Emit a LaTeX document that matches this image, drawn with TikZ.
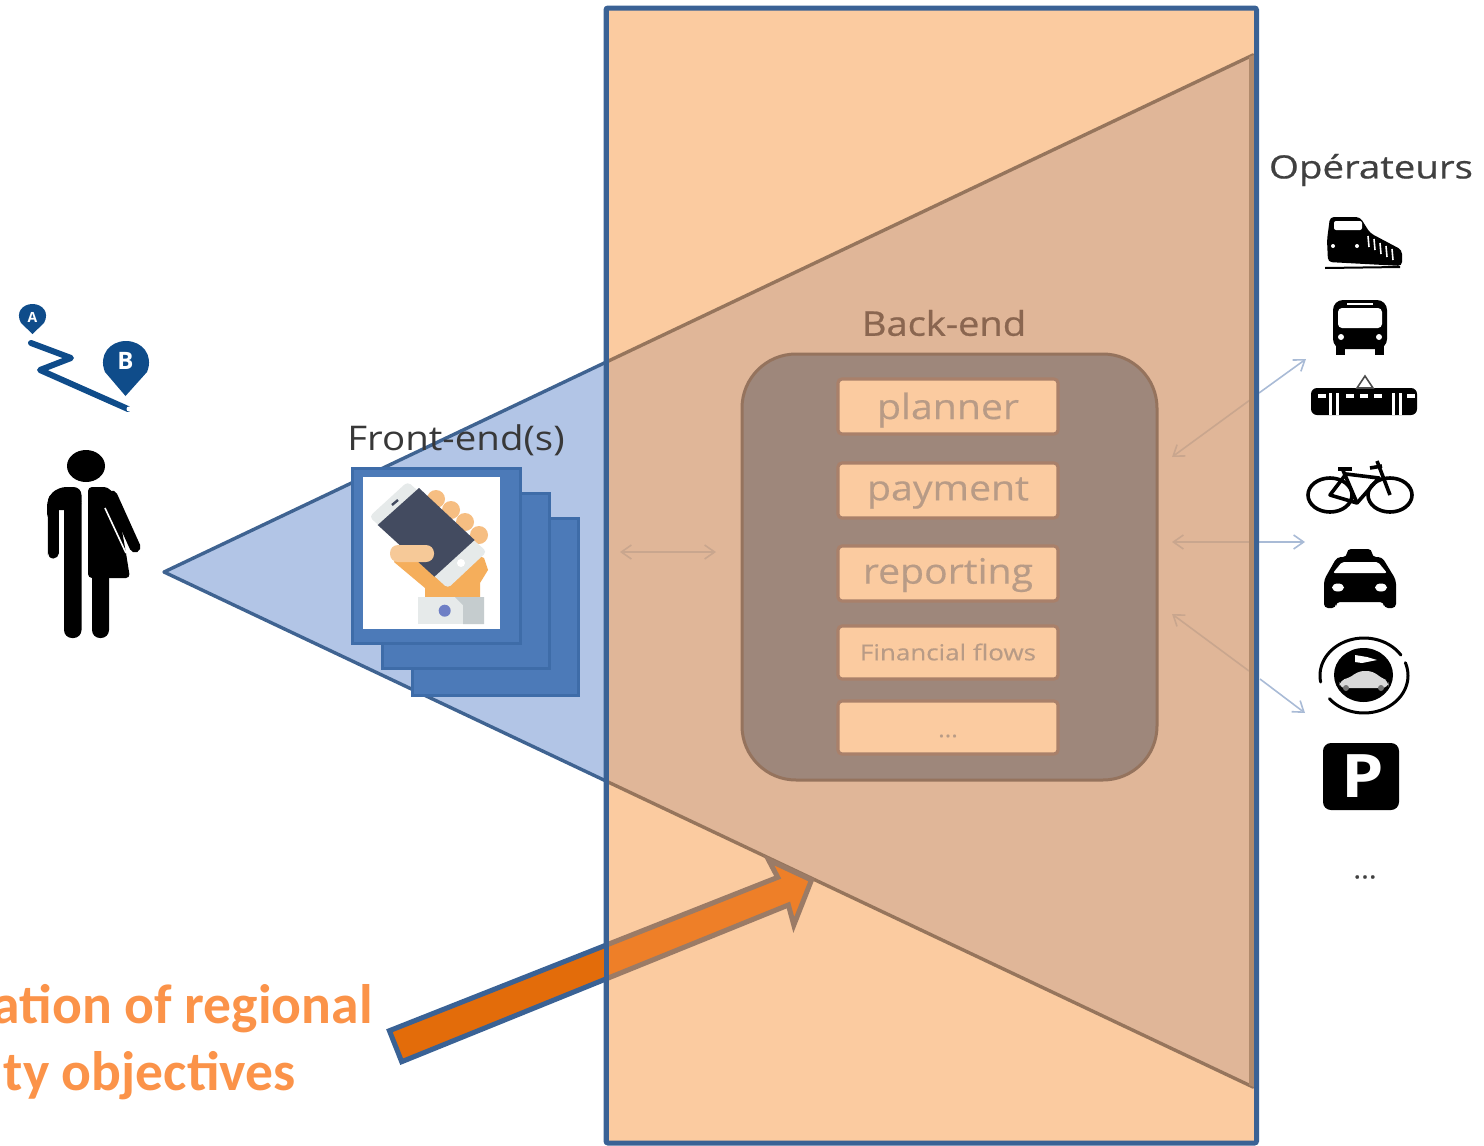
\documentclass[tikz,border=0pt]{standalone}
\usepackage{fontspec}
\setmainfont{Open Sans}
\newfontfamily\carl{Carlito}
\newfontfamily\wf[FakeStretch=1.13]{Open Sans}
\newfontfamily\wfb[FakeStretch=1.12,FakeBold=0.7]{Open Sans}
\newfontfamily\wfm[FakeStretch=1.12,FakeBold=0.35]{Open Sans}
\newfontfamily\wfs[FakeStretch=1.18,FakeBold=0.35]{Open Sans}
\newfontfamily\wfo[FakeStretch=1.2,FakeBold=0.6]{Open Sans}
\usetikzlibrary{arrows.meta}
\definecolor{frameblue}{HTML}{3A6295}
\definecolor{peach}{HTML}{FBCBA0}
\definecolor{triin}{HTML}{E0B698}
\definecolor{triout}{HTML}{B2C5E6}
\definecolor{edgein}{HTML}{96755C}
\definecolor{edgeside}{HTML}{B08A6C}
\definecolor{edgeout}{HTML}{3F6391}
\definecolor{stackblue}{HTML}{4C7AB8}
\definecolor{stackedge}{HTML}{3E6CA8}
\definecolor{panel}{HTML}{9E877B}
\definecolor{panelEdge}{HTML}{95735D}
\definecolor{betext}{HTML}{8A6650}
\definecolor{boxedge}{HTML}{A9806A}
\definecolor{boxtext}{HTML}{B89B86}
\definecolor{arrin}{HTML}{C9A68E}
\definecolor{arrout}{HTML}{A9BBD6}
\definecolor{pincol}{HTML}{0F4C8A}
\definecolor{orangetext}{HTML}{FB9349}
\definecolor{handc}{HTML}{F5AE5B}
\definecolor{fingerc}{HTML}{F6BE82}
\definecolor{phonec}{HTML}{E6EAEA}
\definecolor{screenc}{HTML}{434B60}
\definecolor{thumbc}{HTML}{F6C998}
\definecolor{cuffd}{HTML}{C5CCCE}
\definecolor{btnc}{HTML}{6E7FC5}
\definecolor{arrowout}{HTML}{E36C0A}
\definecolor{arrowin}{HTML}{EE7F28}
\definecolor{arrowinedge}{HTML}{9B7B66}
\tikzset{
 stackbox/.style={draw=stackedge,fill=stackblue,line width=1.5pt},
 modbox/.style={draw=boxedge,fill=peach,line width=1.6pt,rounded corners=2pt},
 modtext/.style={text=boxtext,inner sep=0pt,anchor=center},
 thinin/.style={draw=arrin,line width=.8pt,-{Straight Barb[length=5pt,width=7pt]}},
 thinout/.style={draw=arrout,line width=.8pt,-{Straight Barb[length=5pt,width=7pt]}},
 ico/.style={fill=black,draw=none},
 wht/.style={fill=white,draw=none},
}
\begin{document}
\begin{tikzpicture}[x=0.5pt,y=-0.5pt]
\useasboundingbox (0,0) rectangle (1484,1146);
% frame fill
\fill[peach] (606,8) rectangle (1256,1143);
% triangle
\coordinate (apex) at (164,572);
\coordinate (tt) at (1253,55);
\coordinate (tb) at (1253,1087);
\begin{scope}
\clip (0,0) rectangle (606,1146);
\path[fill=triout,draw=edgeout,line width=1.7pt,line join=round] (apex)--(tt)--(tb)--cycle;
\end{scope}
\begin{scope}
\clip (606,0) rectangle (1484,1146);
\path[fill=triin,draw=edgein,line width=1.7pt,line join=round] (apex)--(tt)--(tb)--cycle;
\end{scope}
% stack
\draw[stackbox] (412.5,518.5) rectangle (578.5,695.5);
\draw[stackbox] (382.5,493.5) rectangle (549.5,668.5);
\draw[stackbox] (352.5,468.5) rectangle (520.5,643.5);
\fill[white] (363,477) rectangle (500,629);
% hand + phone
\foreach \x/\y in {436/499,451/510,465/522,479/535}{\fill[fingerc] (\x,\y) circle[radius=9];}
\fill[handc] (394,562)--(425,588)--(425,597)--(480,597)--(480,583)--(488,570)--(484,558)--(440,540)--(400,550)--cycle;
\fill[phonec,rounded corners=2pt] (407.6,481.7)--(369.3,516.7)--(447.8,588.3)--(486.8,551.7)--cycle;
\fill[screenc] (419,488)--(377.7,525)--(434.4,576.7)--(474.6,540)--cycle;
\fill[thumbc,rounded corners=4pt] (390,545) rectangle (434,562);
\fill[phonec] (418,597) rectangle (484,624);
\fill[cuffd] (463,624)--(463,605)--(455,597)--(484,597)--(484,624)--cycle;
\fill[btnc] (444.7,610.7) circle[radius=6];
\fill[white] (461,563) circle[radius=4];
\draw[screenc,line width=1.2pt] (392,505)--(398,500);
% front-end label
\node[text=black!78,font=\wf\fontsize{17}{20}\selectfont,inner sep=0pt] (fe) at (456,440) {Front-end(s)};
% person
\fill[ico] (86,466) ellipse[x radius=19,y radius=16];
% left half
\fill[ico,rounded corners=4pt] (47,560)--(47,498)--(58,487)--(81.5,487)--(81.5,510)--(47,510)--cycle;
\draw[black,line width=5.5pt,line cap=round] (53,500)--(53,553);
\fill[ico,rounded corners=4pt] (64,495) rectangle (81.5,638);
% right half
\fill[ico,rounded corners=2pt] (88,487)--(108,487)--(116,497)--(126,553)--(130,578)--(88,578)--cycle;
\draw[black,line width=5.5pt,line cap=round] (112,496)--(135,547);
\fill[ico,rounded corners=4pt] (92,570) rectangle (109,638);
\draw[white,line width=.8pt] (105,508)--(126,553);
% pins
\fill[pincol] (32.5,334)--(21,323) .. controls (15,312) and (23,304) .. (32.5,304) .. controls (42,304) and (50,312) .. (44,323)--cycle;
\node[text=white,font=\bfseries\fontsize{7}{8}\selectfont,inner sep=0pt] (pa) at (32.5,317) {A};
\fill[pincol] (125.5,396)--(105,372) .. controls (98,355) and (110,341) .. (126,341) .. controls (142,341) and (154,355) .. (147,372)--cycle;
\node[text=white,font=\bfseries\fontsize{12}{14}\selectfont,inner sep=0pt] (pb) at (125.5,361) {B};
\draw[pincol,line width=3pt,line join=round,line cap=round] (31,343)--(71,358)--(40,370)--(128,409);
\fill[white] (129,409) circle[radius=2.5];
% panel
\node[text=betext,font=\wfb\fontsize{17}{20}\selectfont,inner sep=0pt] (be) at (944,323) {Back-end};
\draw[draw=panelEdge,fill=panel,line width=1.5pt,rounded corners=27pt] (742,354) rectangle (1157,780);
\draw[modbox] (838,379) rectangle (1058,434);
\draw[modbox] (838,463) rectangle (1058,518);
\draw[modbox] (838,546) rectangle (1058,601);
\draw[modbox] (838,626) rectangle (1058,679);
\draw[modbox] (838,701) rectangle (1058,754);
\node[modtext,font=\wfm\fontsize{17.5}{20}\selectfont] (m1) at (948,410) {planner};
\node[modtext,font=\wfm\fontsize{17.5}{20}\selectfont] (m2) at (948,493) {payment};
\node[modtext,font=\wfm\fontsize{17.5}{20}\selectfont] (m3) at (948,575) {reporting};
\node[modtext,font=\wfs\fontsize{11}{13}\selectfont] (m4) at (948,652) {Financial flows};
\node[modtext,font=\wfm\fontsize{11}{13}\selectfont] (m5) at (948,736) {...};
% thin arrows
\coordinate (l1) at (620,552); \coordinate (l2) at (716,552); \coordinate (lm) at (668,552);
\draw[thinin] (lm)--(l1); \draw[thinin] (lm)--(l2);
\coordinate (a1) at (1172,457); \coordinate (a2) at (1306,359);
\coordinate (a3) at (1252,398.5); \coordinate (a4) at (1259,393);
\draw[thinin] (a3)--(a1);
\draw[thinout] (a4)--(a2);
\coordinate (b1) at (1172,542); \coordinate (b2) at (1305,542);
\coordinate (b3) at (1252,542); \coordinate (b4) at (1259,542);
\draw[thinin] (b3)--(b1);
\draw[thinout] (b4)--(b2);
\coordinate (c1) at (1172,614); \coordinate (c2) at (1305,713);
\coordinate (c3) at (1249,671); \coordinate (c4) at (1260,679);
\draw[thinin] (c3)--(c1);
\draw[thinout] (c4)--(c2);
% right edge of triangle next to frame
\fill[edgeside] (1249,57) -- (1254,55) -- (1254,1087) -- (1249,1085)--cycle;
% frame line
\draw[frameblue,line width=2.5pt,rounded corners=1pt] (606,8) rectangle (1256.5,1143);
% big arrow
\def\bigarrow{(389.4,1030.7)--(777.7,877.3)--(768.6,860)--(811.5,880)--(793.8,925)--(788.4,905)--(401.7,1061.7)--cycle}
\begin{scope}
\clip (0,0) rectangle (606,1146);
\path[fill=arrowout,draw=frameblue,line width=2.5pt] \bigarrow;
\end{scope}
\begin{scope}
\clip (606,0) rectangle (1484,1146);
\path[fill=arrowin,draw=arrowinedge,line width=2.5pt] \bigarrow;
\end{scope}
\draw[frameblue,line width=2.5pt] (606,8)--(606,1143);
% orange text
\node[anchor=base east,text=orangetext,font=\carl\bfseries\fontsize{27.8}{30}\selectfont,inner sep=0pt] (t1) at (373,1023) {ation of regional};
\node[anchor=base east,text=orangetext,font=\carl\bfseries\fontsize{27.8}{30}\selectfont,inner sep=0pt] (t2) at (296,1090) {ty objectives};
% operators
\node[text=black!75,font=\wfo\fontsize{16}{20}\selectfont,inner sep=0pt] (op) at (1371,170) {Opérateurs};
% train
\fill[ico,rounded corners=2pt] (1330,217)--(1360,217)--(1370,233)--(1402,250)--(1402,266)--(1328,262)--(1327,240)--cycle;
\fill[wht,rounded corners=1pt] (1334,221) rectangle (1362,230);
\fill[wht] (1333,246) circle[radius=2]; \fill[wht] (1357,246) circle[radius=2];
\foreach \x/\y in {1368/236,1374/239,1380/243,1386/246,1392/249}{\draw[white,line width=.8pt] (\x,\y)--(\x+1,\y+11);}
\draw[black,line width=1pt] (1325,268)--(1400,267);
% bus
\fill[ico,rounded corners=5pt] (1333,300) rectangle (1387,349);
\fill[wht,rounded corners=2pt] (1338,308) rectangle (1382,328);
\fill[wht] (1347,303) rectangle (1373,304.5);
\fill[wht] (1341,337) circle[radius=3]; \fill[wht] (1379,337) circle[radius=3];
\fill[ico] (1336,345) rectangle (1345,355); \fill[ico] (1375,345) rectangle (1384,355);
% tram
\fill[ico,rounded corners=3pt] (1311,388) rectangle (1417,415);
\foreach \x in {1329,1336,1392,1399}{\fill[wht] (\x,393) rectangle (\x+3,415);}
\foreach \x in {1318,1346,1360,1374,1407}{\fill[wht] (\x,394) rectangle (\x+8,398);}
\draw[black!70,line width=.8pt] (1357,388)--(1365,376)--(1373,388)--cycle;
% bike
\draw[black,line width=1.8pt] (1330,495) ellipse[x radius=22,y radius=17];
\draw[black,line width=1.8pt] (1390,495) ellipse[x radius=22,y radius=17];
\draw[black,line width=1.8pt,line join=round] (1330,495)--(1346,474)--(1379,478)--(1357,503)--cycle;
\draw[black,line width=1.8pt] (1342,468)--(1357,503);
\draw[black,line width=1.8pt] (1390,495)--(1377,461);
\draw[black,line width=1.8pt] (1370,468)--(1382,466);
\draw[black,line width=1.8pt] (1338,469)--(1352,469);
% taxi
\fill[ico,rounded corners=2pt] (1324,608)--(1324,580)--(1337,557)--(1347,557)--(1347,549)--(1372,549)--(1372,557)--(1382,557)--(1396,580)--(1396,608)--(1384,608)--(1384,602)--(1336,602)--(1336,608)--cycle;
\fill[wht,rounded corners=1pt] (1333,573)--(1342,562)--(1378,562)--(1387,573)--cycle;
\fill[wht] (1338,587.5) ellipse[x radius=6,y radius=4];
\fill[wht] (1381,587.5) ellipse[x radius=6,y radius=4];
% car sharing
\fill[ico] (1363.5,675) ellipse[x radius=29.5,y radius=27];
\draw[black,line width=1.5pt,line cap=round] plot[domain=33:190,samples=40] ({1364+44*cos(\x)},{675.5-37.5*sin(\x)});
\draw[black,line width=1.5pt,line cap=round] plot[domain=218:380,samples=40] ({1364+44*cos(\x)},{675.5-37.5*sin(\x)});
\fill[wht] (1355,655)--(1355,662)--(1362,663)--(1377,660)--(1367,657)--cycle;
\fill[black!15,rounded corners=3pt] (1339,688)--(1340,680)--(1350,678)--(1358,671)--(1373,671)--(1381,678)--(1389,681)--(1388,688)--cycle;
\fill[black!55] (1346,688) circle[radius=3]; \fill[black!55] (1381,688) circle[radius=3];
% parking
\fill[ico,rounded corners=4pt] (1323,743) rectangle (1399,810);
\node[text=white,font=\wf\bfseries\fontsize{30}{34}\selectfont,inner sep=0pt] (pk) at (1363,776) {P};
% dots
\node[text=black!75,font=\wfb\fontsize{13}{14}\selectfont,inner sep=0pt] (od) at (1365,877) {...};
\end{tikzpicture}
\end{document}
